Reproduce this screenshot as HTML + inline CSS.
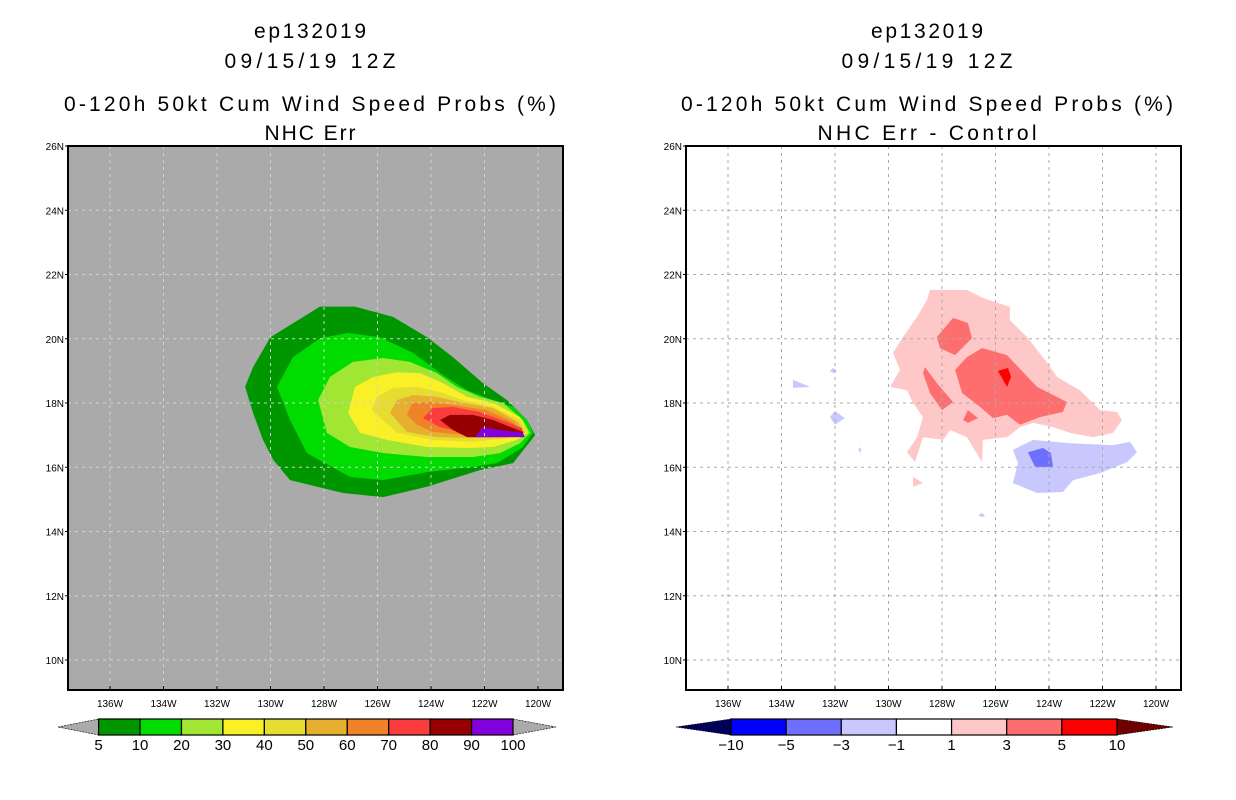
<!DOCTYPE html>
<html><head><meta charset="utf-8"><style>
html,body{margin:0;padding:0;background:#fff;width:1236px;height:800px;overflow:hidden}
svg{display:block;font-family:"Liberation Sans",sans-serif}
</style></head><body>
<svg id="fig" width="1236" height="800" viewBox="0 0 1236 800" xmlns="http://www.w3.org/2000/svg"></svg>
<script>
// ---- data ----
const lonTicks = [-136,-134,-132,-130,-128,-126,-124,-122,-120];
const lonTickLabels = ["136W","134W","132W","130W","128W","126W","124W","122W","120W"];
const latTicks = [10,12,14,16,18,20,22,24,26];
const latTickLabels = ["10N","12N","14N","16N","18N","20N","22N","24N","26N"];
const probLevels = ["5","10","20","30","40","50","60","70","80","90","100"];
const probColors = ["#009600","#00dc00","#a0e632","#faf028","#e6dc32","#e6af2d","#f08228","#fa3c3c","#960000","#8200dc"];
const diffLevels = ["-10","-5","-3","-1","1","3","5","10"];
const diffColors = ["#00005a","#0000ff","#6e6eff","#c8c8ff","#ffffff","#ffc8c8","#ff6e6e","#ff0000","#6e0000"];
// contours [lon,lat]
const prob5 = [[-130.95,18.5],[-130.65,19.12],[-130.0,20.05],[-128.15,21.0],[-126.84,21.0],[-125.42,20.68],[-124.15,20.05],[-123.18,19.43],[-122.06,18.62],[-121.16,18.09],[-120.41,17.47],[-120.11,17.0],[-120.93,16.13],[-122.17,15.91],[-124.15,15.39],[-125.79,15.07],[-127.29,15.2],[-129.27,15.6],[-129.9,16.23],[-130.28,16.85],[-130.65,17.69]];
const prob10 = [[-129.76,18.5],[-129.16,19.43],[-128.15,20.02],[-127.1,20.18],[-125.91,20.05],[-124.67,19.56],[-123.66,18.93],[-122.65,18.4],[-121.68,18.09],[-120.93,17.88],[-120.41,17.47],[-120.19,17.07],[-120.56,16.63],[-121.53,16.13],[-122.43,16.01],[-124.15,15.85],[-125.79,15.6],[-127.03,15.7],[-128.64,16.44],[-129.27,17.47]];
const prob20 = [[-128.22,18.09],[-127.78,18.81],[-126.92,19.28],[-125.79,19.4],[-124.79,19.28],[-123.78,18.93],[-123.03,18.5],[-122.17,18.19],[-121.31,18.0],[-120.56,17.47],[-120.3,17.07],[-120.67,16.75],[-121.42,16.44],[-122.43,16.32],[-124.15,16.32],[-125.79,16.44],[-127.03,16.63],[-127.89,17.07]];
const prob30 = [[-127.1,17.69],[-126.84,18.5],[-126.17,18.81],[-125.27,18.96],[-124.41,18.93],[-123.55,18.62],[-122.65,18.19],[-121.68,18.0],[-120.67,17.56],[-120.37,17.07],[-120.79,16.85],[-121.68,16.63],[-122.65,16.6],[-124.15,16.63],[-125.64,16.85],[-126.65,17.07]];
const prob40 = [[-126.21,17.78],[-126.02,18.19],[-125.42,18.47],[-124.52,18.5],[-123.66,18.34],[-122.8,18.09],[-121.68,17.88],[-120.67,17.47],[-120.41,17.07],[-121.16,16.91],[-122.43,16.79],[-123.93,16.85],[-125.27,17.07]];
const prob50 = [[-125.53,17.69],[-125.27,18.09],[-124.67,18.25],[-123.78,18.19],[-122.92,18.03],[-121.68,17.84],[-120.75,17.41],[-120.49,17.07],[-121.16,16.94],[-122.43,16.91],[-123.78,16.94],[-124.9,17.1]];
const prob60 = [[-124.9,17.63],[-124.71,18.0],[-124.04,18.03],[-123.18,17.94],[-121.91,17.78],[-120.93,17.41],[-120.56,17.07],[-121.16,16.94],[-122.65,17.0],[-123.93,17.1],[-124.52,17.32]];
const prob70 = [[-124.3,17.53],[-123.93,17.84],[-123.18,17.88],[-122.17,17.72],[-121.16,17.41],[-120.6,17.22],[-120.56,17.0],[-121.42,16.94],[-122.65,17.07],[-123.66,17.25]];
const prob80 = [[-123.66,17.47],[-123.29,17.63],[-122.43,17.63],[-121.68,17.47],[-120.93,17.22],[-120.56,17.1],[-120.56,16.94],[-121.68,16.94],[-122.65,16.94],[-123.18,17.16]];
const prob90 = [[-122.36,16.94],[-122.06,17.25],[-121.42,17.16],[-120.56,17.07],[-120.49,16.94]];
const diffPos1 = [[-128.45,21.52],[-127.07,21.52],[-126.47,21.27],[-125.46,20.99],[-125.46,20.58],[-124.82,20.05],[-124.07,19.25],[-123.7,18.81],[-122.84,18.4],[-122.09,17.78],[-121.46,17.72],[-121.27,17.47],[-121.61,17.07],[-122.36,16.94],[-123.21,17.07],[-123.85,17.25],[-124.6,17.38],[-125.08,17.25],[-125.57,16.94],[-126.47,16.85],[-126.5,16.16],[-127.07,16.94],[-127.7,17.16],[-127.96,16.85],[-128.71,16.94],[-129.01,16.16],[-129.31,16.47],[-128.93,16.94],[-128.71,17.56],[-129.08,18.0],[-129.31,18.4],[-129.94,18.5],[-129.57,19.03],[-129.83,19.56],[-129.46,20.05],[-128.93,20.68],[-128.56,21.21]];
const diffPos1b = [[-129.08,15.7],[-128.71,15.51],[-129.08,15.39]];
const diffPos3a = [[-128.19,20.05],[-127.59,20.65],[-127.03,20.49],[-126.88,20.02],[-127.51,19.49],[-128.07,19.71]];
const diffPos3b = [[-127.51,19.03],[-127.07,19.43],[-126.5,19.71],[-125.57,19.49],[-124.45,18.5],[-123.33,18.03],[-123.48,17.72],[-124.34,17.56],[-125.08,17.32],[-125.57,17.63],[-126.09,17.53],[-126.58,17.88],[-127.25,18.31]];
const diffPos3c = [[-128.64,19.12],[-128.19,18.62],[-127.59,18.03],[-128.0,17.78],[-128.45,18.31],[-128.71,18.93]];
const diffPos3d = [[-127.21,17.47],[-127.03,17.78],[-126.65,17.53],[-127.03,17.38]];
const diffPos5 = [[-125.91,19.0],[-125.53,19.09],[-125.42,18.81],[-125.57,18.5],[-125.76,18.78]];
const diffNeg1a = [[-125.35,16.54],[-124.6,16.85],[-123.21,16.75],[-121.61,16.69],[-120.97,16.79],[-120.71,16.47],[-121.08,16.16],[-122.09,15.82],[-123.1,15.6],[-123.48,15.23],[-124.45,15.2],[-125.35,15.51],[-125.16,16.13]];
const diffNeg1b = [[-133.57,18.72],[-132.93,18.5],[-133.57,18.47]];
const diffNeg1c = [[-132.19,17.56],[-132.0,17.75],[-131.63,17.53],[-132.0,17.32]];
const diffNeg1d = [[-132.19,19.0],[-132.07,19.09],[-131.93,19.0],[-132.07,18.93]];
const diffNeg1e = [[-131.14,16.54],[-131.03,16.63],[-131.03,16.44]];
const diffNeg1f = [[-126.65,14.51],[-126.5,14.58],[-126.39,14.48],[-126.5,14.45]];
const diffNeg3 = [[-124.79,16.47],[-124.22,16.6],[-123.93,16.44],[-123.85,16.01],[-124.52,16.01]];

// ---- drawing ----
const NS="http://www.w3.org/2000/svg";
const svg=document.getElementById('fig');
function mk(tag,attrs,parent){const e=document.createElementNS(NS,tag);for(const k in attrs)e.setAttribute(k,attrs[k]);(parent||svg).appendChild(e);return e;}
function panel(x0){
  const top=146,bot=690,left=x0,right=x0+495;
  const xs=lon=>x0+42+(lon+136)*26.75;
  const ys=lat=>146+(26-lat)*32.125;
  return {top,bot,left,right,xs,ys};
}
function poly(P,pts,fill,name,g){
  const e=mk('polygon',{points:pts.map(p=>P.xs(p[0]).toFixed(1)+','+P.ys(p[1]).toFixed(1)).join(' '),fill:fill},g);
  
  
}
function titles(cx,sub,subW){
  const lines=[["ep132019",38,'title-storm-id',112],["09/15/19 12Z",68,'title-date',171],["0-120h 50kt Cum Wind Speed Probs (%)",111,'title-product',492],[sub,140,'title-subtitle',subW]];
  lines.forEach(l=>{const t=mk('text',{x:cx,y:l[1],'text-anchor':'middle','font-size':'21',fill:'#000',textLength:l[3],lengthAdjust:'spacing'});t.textContent=l[0];
    
    });
}
function axes(P,g,gridColor){
  const gg=mk('g',{},g);
  
  
  lonTicks.forEach(v=>mk('line',{x1:P.xs(v),x2:P.xs(v),y1:P.top,y2:P.bot,stroke:gridColor,'stroke-width':1,'stroke-dasharray':'3,4'},gg));
  latTicks.forEach(v=>mk('line',{x1:P.left,x2:P.right,y1:P.ys(v),y2:P.ys(v),stroke:gridColor,'stroke-width':1,'stroke-dasharray':'3,4'},gg));
  const fr=mk('rect',{x:P.left,y:P.top,width:P.right-P.left,height:P.bot-P.top,fill:'none',stroke:'#000','stroke-width':2},g);
  
  
  lonTicks.forEach((v,i)=>{const t=mk('text',{x:P.xs(v),y:P.bot+17,'text-anchor':'middle','font-size':'10',fill:'#000'},g);t.textContent=lonTickLabels[i];
    
    
    mk('line',{x1:P.xs(v),x2:P.xs(v),y1:P.bot,y2:P.bot-4,stroke:'#000'},g);});
  latTicks.forEach((v,i)=>{const t=mk('text',{x:P.left-4,y:P.ys(v)+4,'text-anchor':'end','font-size':'10',fill:'#000'},g);t.textContent=latTickLabels[i];
    
    
    mk('line',{x1:P.left-3,x2:P.left,y1:P.ys(v),y2:P.ys(v),stroke:'#000'},g);});
}
function colorbar(x0,x1,tipL,tipR,colors,labels,name){
  const g=mk('g',{});
  
  
  const y0=719,y1=735,n=colors.length-2,w=(x1-x0)/n;
  const tl=mk('polygon',{points:`${tipL},727 ${x0},${y0} ${x0},${y1}`,fill:colors[0],stroke:'#000','stroke-width':0.6,'stroke-dasharray':'2,1'},g);
  
  
  const tr=mk('polygon',{points:`${tipR},727 ${x1},${y0} ${x1},${y1}`,fill:colors[colors.length-1],stroke:'#000','stroke-width':0.6,'stroke-dasharray':'2,1'},g);
  
  
  for(let i=0;i<n;i++){const r=mk('rect',{x:x0+i*w,y:y0,width:w,height:y1-y0,fill:colors[i+1],stroke:'#000','stroke-width':1.2},g);
    
    }
  labels.forEach((l,i)=>{const t=mk('text',{x:x0+i*w,y:750,'text-anchor':'middle','font-size':'15',fill:'#000'},g);t.textContent=l.replace('-','\u2212');
    
    });
}
// left panel
const L=panel(68);
titles(310,"NHC Err",91);
const gl=mk('g',{});


const bg=mk('rect',{x:L.left,y:L.top,width:495,height:544,fill:'#aaaaaa'},gl);


[prob5,prob10,prob20,prob30,prob40,prob50,prob60,prob70,prob80,prob90].forEach((p,i)=>poly(L,p,probColors[i],'prob-contour-'+probLevels[i],gl));
axes(L,gl,'#d2d2d2');
colorbar(98.6,513,58,556,["#aaaaaa"].concat(probColors,["#aaaaaa"]),probLevels,'left-colorbar');
// right panel
const R=panel(686);
titles(927,"NHC Err - Control",219);
const gr=mk('g',{});


poly(R,diffPos1,diffColors[5],'diff-contour-pos1',gr);
poly(R,diffPos1b,diffColors[5],'diff-contour-pos1',gr);
[diffPos3a,diffPos3b,diffPos3c,diffPos3d].forEach(p=>poly(R,p,diffColors[6],'diff-contour-pos3',gr));
poly(R,diffPos5,diffColors[7],'diff-contour-pos5',gr);
[diffNeg1a,diffNeg1b,diffNeg1c,diffNeg1d,diffNeg1e,diffNeg1f].forEach(p=>poly(R,p,diffColors[3],'diff-contour-neg1',gr));
poly(R,diffNeg3,diffColors[2],'diff-contour-neg3',gr);
axes(R,gr,'#aaaaaa');
colorbar(731,1117,676,1173,diffColors,diffLevels,'right-colorbar');
</script>
</body></html>
